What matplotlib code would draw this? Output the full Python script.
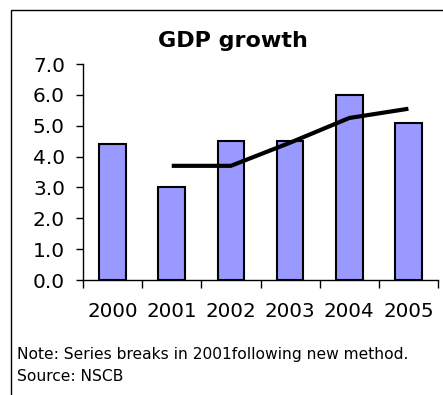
import numpy as np
import matplotlib
matplotlib.use("Agg")
import matplotlib.pyplot as plt
from matplotlib.patches import Rectangle
from matplotlib.ticker import FixedLocator, FormatStrFormatter

# GDP growth, %
years = ["2000", "2001", "2002", "2003", "2004", "2005"]
gdp_growth = [4.4, 3.0, 4.5, 4.5, 6.0, 5.1]
# trend line, series starts in 2001 (new method)
trend = [np.nan, 3.7, 3.7, 4.45, 5.25, 5.55]

note_text = "Note: Series breaks in 2001following new method."
source_text = "Source: NSCB"

W, H = 443, 395
fig = plt.figure(figsize=(W / 100, H / 100), dpi=100)
fig.patch.set_facecolor("white")

# outer frame of the chart area
fig.patches.append(Rectangle((11 / W, 1 - 10 / H), 1.0, -1.0,
                             transform=fig.transFigure, fill=False,
                             edgecolor="black", linewidth=1.0))

ax = fig.add_axes([83 / W, 1 - 280 / H, (438 - 83) / W, (280 - 64) / H])

x = np.arange(len(years)) + 0.5
ax.bar(x, gdp_growth, width=0.45, color="#9999FF", edgecolor="black",
       linewidth=1.5, zorder=2)
ax.plot(x, trend, color="black", linewidth=3, solid_capstyle="butt", zorder=3)

ax.set_xlim(0, len(years))
ax.set_ylim(0, 7)

ax.set_yticks(np.arange(0, 8, 1))
ax.yaxis.set_major_formatter(FormatStrFormatter("%.1f"))
ax.tick_params(axis="y", direction="out", length=5, width=1, pad=8,
               labelsize=14.5)

ax.set_xticks(x)
ax.set_xticklabels(years)
ax.xaxis.set_minor_locator(FixedLocator(np.arange(0, len(years) + 1)))
ax.tick_params(axis="x", which="major", length=0, pad=16, labelsize=14.3)
ax.tick_params(axis="x", which="minor", direction="out", length=6, width=1)

for side in ["top", "right"]:
    ax.spines[side].set_visible(False)
for side in ["left", "bottom"]:
    ax.spines[side].set_linewidth(1)

fig.text(233 / W, 1 - 47 / H, "GDP growth", ha="center", va="baseline",
         fontsize=16, fontweight="bold")
fig.text(17 / W, 1 - 359 / H, note_text, ha="left", va="baseline",
         fontsize=11.2)
fig.text(17 / W, 1 - 381 / H, source_text, ha="left", va="baseline",
         fontsize=11.2)

fig.savefig("out.png", dpi=100)
